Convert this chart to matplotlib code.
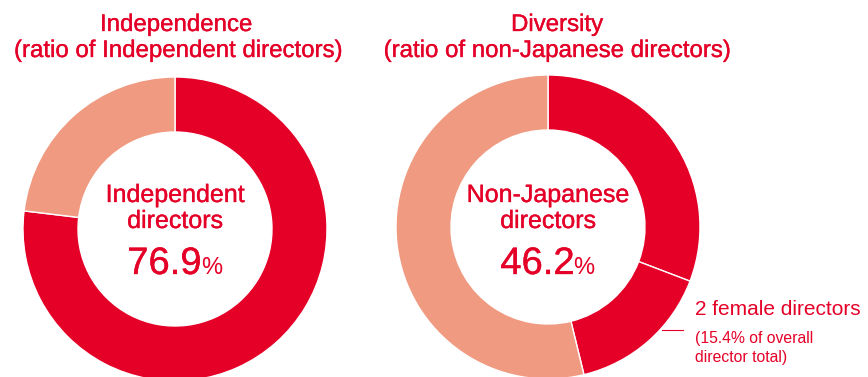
import matplotlib.pyplot as plt
import matplotlib.patheffects as pe

# Board composition ratios (%)
indep_labels = ['Independent directors', 'Other directors']
indep_values = [76.9, 23.1]

div_labels = ['Non-Japanese (male)', 'Female directors', 'Japanese directors']
div_values = [30.8, 15.4, 53.8]
non_japanese_total = 46.2
female_count = 2
female_share = 15.4

RED = '#E50028'
SALMON = '#F09B81'

plt.rcParams['font.family'] = ['Liberation Sans', 'DejaVu Sans']

W, H = 868, 377
fig = plt.figure(figsize=(W / 100, H / 100), dpi=100)
ax = fig.add_axes([0, 0, 1, 1])

ring = dict(width=55, edgecolor='white', linewidth=1.0)

# left donut: independence
ax.pie(indep_values, colors=[RED, SALMON], radius=152, center=(175, 148),
       startangle=90, counterclock=False, wedgeprops=ring)

# right donut: diversity
ax.pie(div_values, colors=[RED, RED, SALMON], radius=152, center=(548, 150),
       startangle=90, counterclock=False, wedgeprops=ring)

ax.set_xlim(0, W)
ax.set_ylim(0, H)
ax.set_aspect('equal')
ax.axis('off')


def label(x, y, s, size, ha='center', stroke=0.25):
    # a thin outline gives the regular face a slightly heavier look
    fx = [pe.withStroke(linewidth=stroke, foreground=RED)] if stroke else None
    return ax.text(x, y, s, ha=ha, va='baseline', fontsize=size, color=RED,
                   path_effects=fx)


# titles
label(176, 346, 'Independence', 17.3)
label(178, 320, '(ratio of Independent directors)', 17.3)
label(557, 346, 'Diversity', 17.3)
label(557, 320, '(ratio of non-Japanese directors)', 17.3)


def centre_label(cx, line1, line2, value):
    label(cx, 175, line1, 18)
    label(cx, 149, line2, 18)
    num = label(cx, 103, f'{value:.1f}', 27.5, ha='right')
    pct = label(cx, 103, '%', 17, ha='left', stroke=0)
    # shift both parts so the number and % sign sit centred together
    r = fig.canvas.get_renderer()
    w_num = num.get_window_extent(r).width
    w_pct = pct.get_window_extent(r).width
    join = cx + (w_num - w_pct) / 2
    num.set_x(join)
    pct.set_x(join - 1)


centre_label(175, 'Independent', 'directors', indep_values[0])
centre_label(548, 'Non-Japanese', 'directors', non_japanese_total)

# female directors callout
ax.plot([662, 683], [47, 47], color=RED, lw=0.8)
label(695, 62, f'{female_count} female directors', 15, ha='left', stroke=0)
label(695, 34, f'({female_share}% of overall', 11.3, ha='left', stroke=0)
label(695, 15, 'director total)', 11.3, ha='left', stroke=0)

fig.savefig('out.png', dpi=100)
